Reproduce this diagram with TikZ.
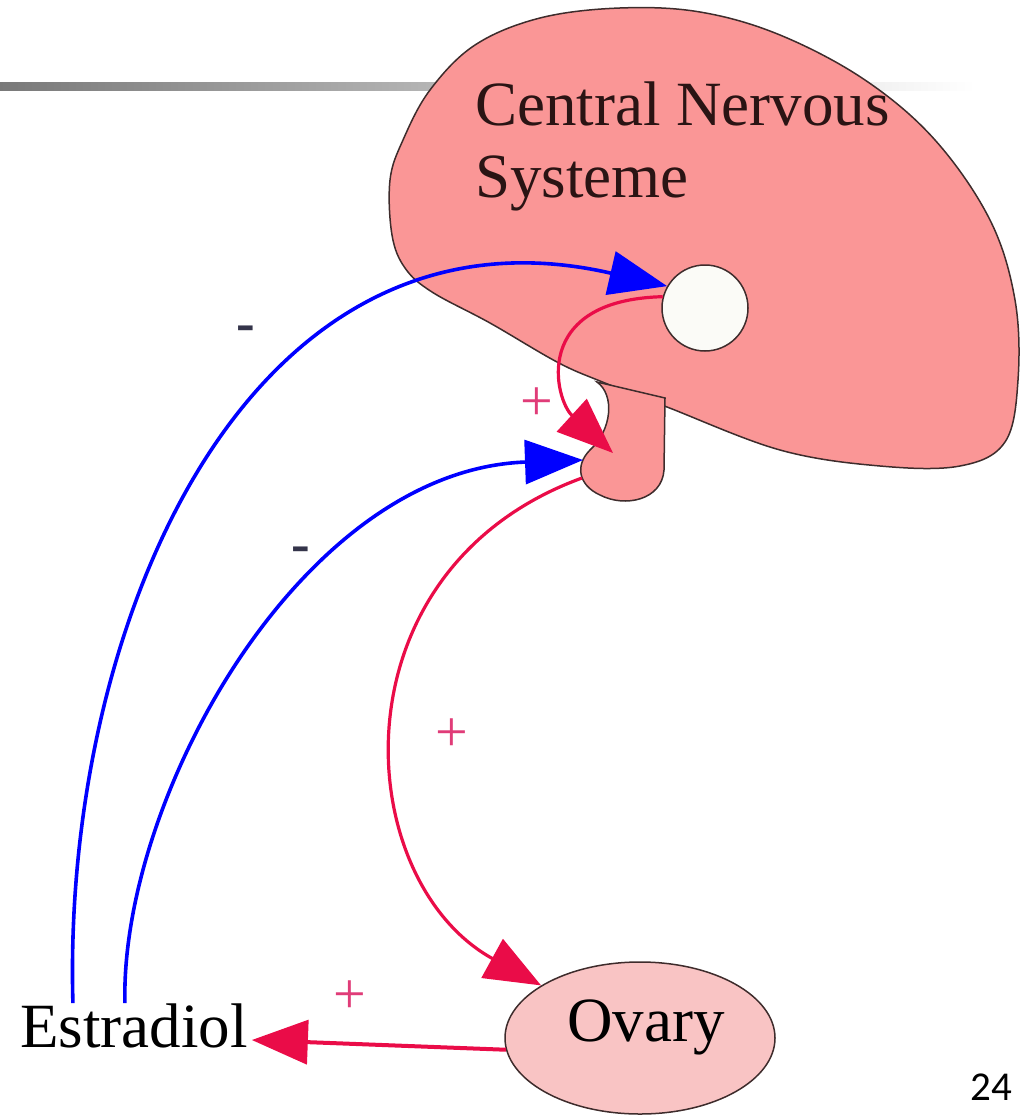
\documentclass[tikz,border=0pt]{standalone}
\usepackage{fontspec}
\setmainfont{Liberation Serif}
\newfontfamily\slidefont{Carlito}
\definecolor{cnsPink}{HTML}{FA9696}
\definecolor{ovaryPink}{HTML}{F9C4C4}
\definecolor{organLine}{HTML}{3E2C2C}
\definecolor{cnsText}{HTML}{2A1414}
\definecolor{hormRed}{HTML}{EA0C48}
\definecolor{plusPink}{HTML}{E03C78}
\definecolor{minusGray}{HTML}{34344A}
\definecolor{hypoWhite}{HTML}{FBFBF7}
\usetikzlibrary{arrows.meta, shapes.geometric, calc}

\begin{document}
\begin{tikzpicture}[x=1pt, y=-1pt,
    organ/.style={draw=organLine, line width=1.5pt, fill=cnsPink},
    bigtext/.style={font=\fontsize{63}{72}\selectfont, inner sep=0pt},
    inhib/.style={draw=blue, line width=3.6pt, -{Triangle[length=58pt, width=44pt]}},
    stim/.style={draw=hormRed, line width=3.2pt, -{Triangle[length=56pt, width=44pt]}},
    plussign/.style={text=plusPink, font=\fontsize{58}{58}\selectfont, inner sep=0pt},
    minussign/.style={text=minusGray, font=\bfseries\fontsize{56}{56}\selectfont, inner sep=0pt}]
        \useasboundingbox (0,0) rectangle (1023,1118);

        % Slide bar
        \shade[left color=gray!95!black, right color=white] (0,83) rectangle (975,91);

        % Central nervous system
        \draw[organ] plot[smooth cycle, tension=0.6] coordinates {
            (390,180) (392,235) (405,268) (432,292) (490,323) (557,362) (600,381)
            (667,407) (780,450) (880,466) (960,466) (1005,442) (1018,380) (1015,300)
            (990,220) (935,140) (865,80) (780,35) (700,12) (620,8) (540,18)
            (475,45) (430,90) (403,140)};
        \node[bigtext, text=cnsText, anchor=north west, align=left] (cnsLabel) at (475,82) {Central Nervous\\Systeme};

        % Pituitary
        \draw[organ] (597,382) .. controls (615,395) and (612,430) .. (590,450)
            .. controls (575,465) and (578,485) .. (600,495)
            .. controls (625,508) and (662,500) .. (664,470) -- (665,398) -- cycle;
        \coordinate (pitIn) at (583,460);
        \coordinate (pitTip) at (613,453);
        \coordinate (pitOut) at (582,478);

        % Hypothalamus
        \node[circle, draw=organLine, line width=1.5pt, fill=hypoWhite, minimum size=86pt, inner sep=0pt] (hypo) at (705,308) {};

        % Ovary and estradiol
        \node[ellipse, draw=organLine, line width=1.5pt, fill=ovaryPink, minimum width=270pt, minimum height=152pt,
            label={[bigtext, xshift=6pt, yshift=11pt]center:Ovary}] (ovary) at (640,1038) {};
        \node[bigtext, anchor=base west] (estradiol) at (20,1047) {Estradiol};

        % Feedback loops
        \draw[inhib] ([xshift=-61pt]estradiol.north) .. controls (62,620) and (250,190) .. (hypo.150);
        \draw[inhib] ([xshift=-9pt]estradiol.north) .. controls (120,800) and (300,470) .. (pitIn);
        \draw[stim] (hypo.165) .. controls (530,300) and (555,400) .. (pitTip);
        \draw[stim] (pitOut) .. controls (330,570) and (350,880) .. (ovary.152);
        \draw[stim, line width=4pt] (ovary.185) -- ([shift={(4pt,7pt)}]estradiol.base east);

        % Signs
        \node[minussign] (minusTop) at (246,334) {-};
        \node[minussign] (minusLow) at (301,555) {-};
        \node[plussign] (plusPit) at (537,404) {+};
        \node[plussign] (plusOvary) at (452,735) {+};
        \node[plussign] (plusEstr) at (350,997) {+};

        \node[font=\slidefont\fontsize{41}{41}\selectfont] (pageNum) at (991,1087) {24};
    \end{tikzpicture}
\end{document}
